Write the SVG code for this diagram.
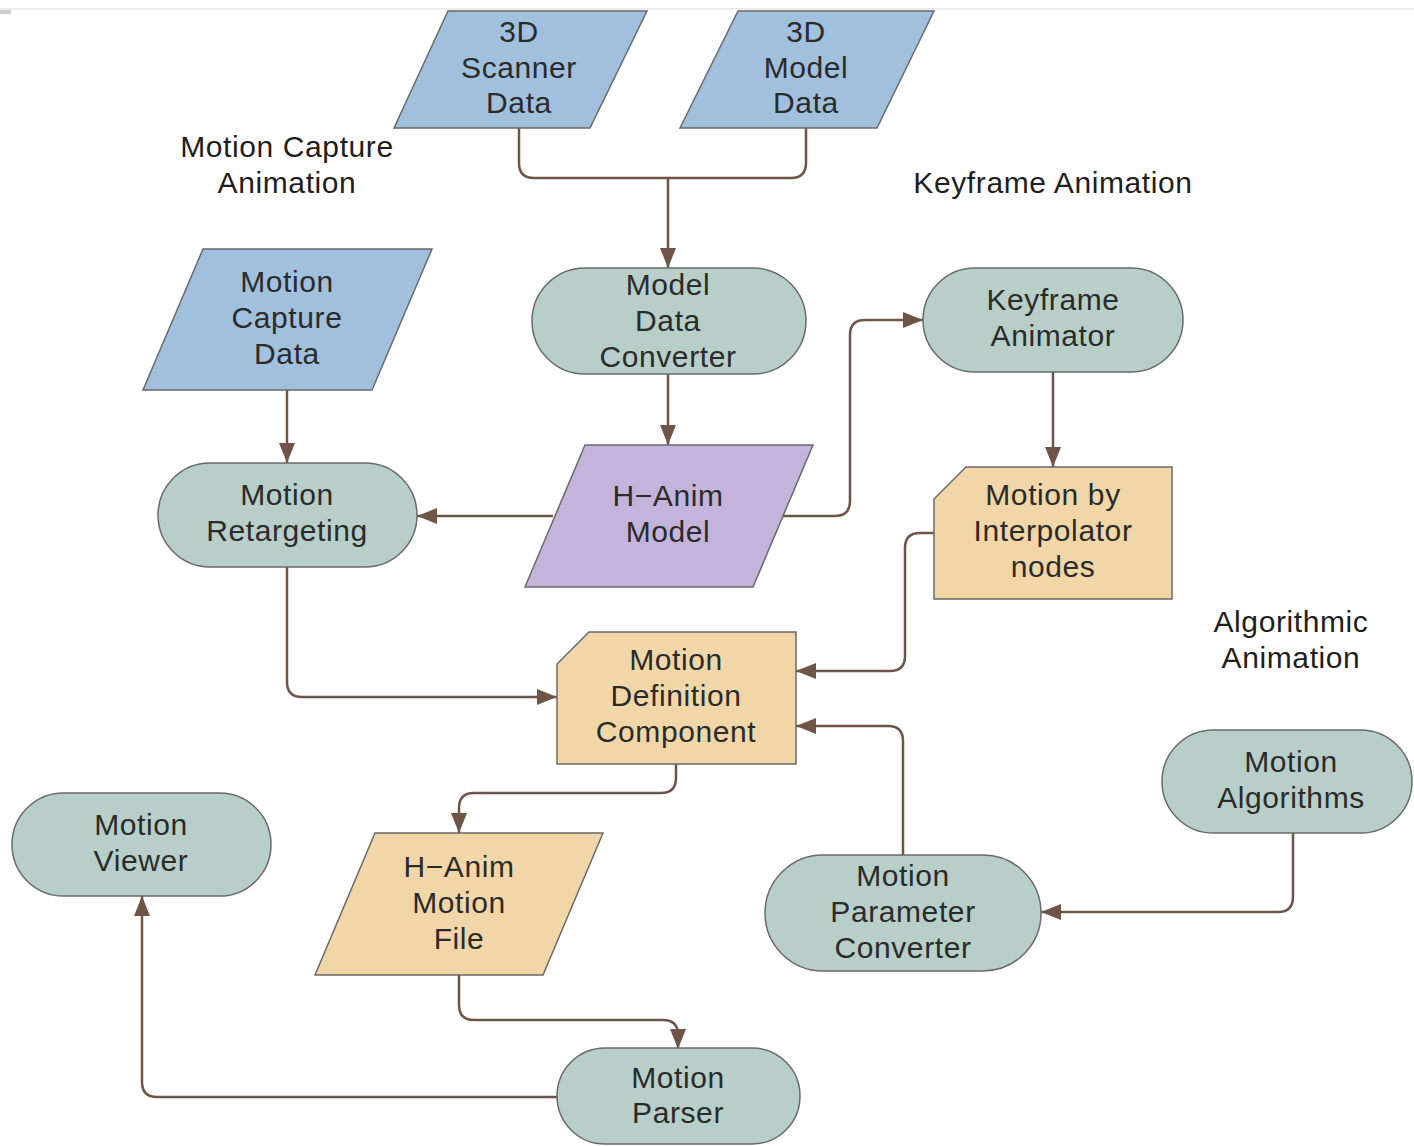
<svg xmlns="http://www.w3.org/2000/svg" width="1414" height="1146" viewBox="0 0 1414 1146">
  <defs>
    <marker id="arrow" markerUnits="userSpaceOnUse" markerWidth="22" markerHeight="16" refX="20" refY="8" orient="auto">
      <path d="M0,0 L20,8 L0,16 Z" fill="#6e5548"/>
    </marker>
  </defs>
  <style>
    .bg { fill: #ffffff; }
    .data { fill: #a1c0dd; stroke: #6a6a6a; stroke-width: 1.5; }
    .proc { fill: #b7cfc8; stroke: #6a6a6a; stroke-width: 1.5; }
    .model { fill: #c4b3da; stroke: #6a6a6a; stroke-width: 1.5; }
    .doc { fill: #f1d7a8; stroke: #6a6a6a; stroke-width: 1.5; }
    .edge { fill: none; stroke: #6e5548; stroke-width: 2.5; marker-end: url(#arrow); }
    .join { fill: none; stroke: #6e5548; stroke-width: 2.5; }
    text { font-family: "Liberation Sans", Arial, sans-serif; font-size: 30px; letter-spacing: 0.6px; text-anchor: middle; fill: #2b2b2b; }
    .lbl { fill: #1e1e1e; }
  </style>

  <rect class="bg" x="0" y="0" width="1414" height="1146"/>
  <line x1="0" y1="9" x2="1414" y2="9" stroke="#e6e6e6" stroke-width="1.5"/>
  <rect x="0" y="10" width="11" height="4" fill="#cfcfcf"/>

  <!-- section labels -->
  <g id="label-mocap">
    <text class="lbl" x="287" y="157">Motion Capture</text>
    <text class="lbl" x="287" y="193">Animation</text>
  </g>
  <g id="label-keyframe">
    <text class="lbl" x="1053" y="193">Keyframe Animation</text>
  </g>
  <g id="label-algorithmic">
    <text class="lbl" x="1291" y="632">Algorithmic</text>
    <text class="lbl" x="1291" y="668">Animation</text>
  </g>

  <!-- connectors -->
  <g id="connectors">
    <path class="edge" d="M519,128 V163 Q519,178 534,178 H668 V268"/>
    <path class="join" d="M806,128 V163 Q806,178 791,178 H668"/>
    <path class="edge" d="M668,374 V445"/>
    <path class="edge" d="M287,390 V463"/>
    <path class="edge" d="M553,516 H417"/>
    <path class="edge" d="M783,516 H835 Q850,516 850,501 V335 Q850,320 865,320 H923"/>
    <path class="edge" d="M1053,372 V467"/>
    <path class="edge" d="M287,567 V682 Q287,697 302,697 H557"/>
    <path class="edge" d="M934,533 H920 Q905,533 905,548 V656 Q905,671 890,671 H796"/>
    <path class="edge" d="M903,855 V741 Q903,726 888,726 H796"/>
    <path class="edge" d="M1293,833 V897 Q1293,912 1278,912 H1041"/>
    <path class="edge" d="M676,764 V778 Q676,793 661,793 H474 Q459,793 459,808 V833"/>
    <path class="edge" d="M459,975 V1005 Q459,1020 474,1020 H663 Q678,1020 678,1035 V1049"/>
    <path class="edge" d="M557,1097 H157 Q142,1097 142,1082 V896"/>
  </g>

  <!-- nodes -->
  <g id="scanner-data">
    <polygon class="data" points="448,11 647,11 590,128 394,128"/>
    <text x="519" y="42">3D</text>
    <text x="519" y="78">Scanner</text>
    <text x="519" y="113">Data</text>
  </g>
  <g id="model-data">
    <polygon class="data" points="738,11 934,11 877,128 680,128"/>
    <text x="806" y="42">3D</text>
    <text x="806" y="78">Model</text>
    <text x="806" y="113">Data</text>
  </g>
  <g id="motion-capture-data">
    <polygon class="data" points="203,249 432,249 372,390 143,390"/>
    <text x="287" y="292">Motion</text>
    <text x="287" y="328">Capture</text>
    <text x="287" y="364">Data</text>
  </g>
  <g id="model-data-converter">
    <rect class="proc" x="532" y="268" width="274" height="106" rx="53"/>
    <text x="668" y="295">Model</text>
    <text x="668" y="331">Data</text>
    <text x="668" y="367">Converter</text>
  </g>
  <g id="keyframe-animator">
    <rect class="proc" x="923" y="268" width="260" height="104" rx="52"/>
    <text x="1053" y="310">Keyframe</text>
    <text x="1053" y="346">Animator</text>
  </g>
  <g id="motion-retargeting">
    <rect class="proc" x="158" y="463" width="259" height="104" rx="52"/>
    <text x="287" y="505">Motion</text>
    <text x="287" y="541">Retargeting</text>
  </g>
  <g id="h-anim-model">
    <polygon class="model" points="585,445 813,445 753,587 525,587"/>
    <text x="668" y="506">H−Anim</text>
    <text x="668" y="542">Model</text>
  </g>
  <g id="motion-by-interpolator">
    <path class="doc" d="M966,467 H1172 V599 H934 V499 Z"/>
    <text x="1053" y="505">Motion by</text>
    <text x="1053" y="541">Interpolator</text>
    <text x="1053" y="577">nodes</text>
  </g>
  <g id="motion-definition-component">
    <path class="doc" d="M589,632 H796 V764 H557 V664 Z"/>
    <text x="676" y="670">Motion</text>
    <text x="676" y="706">Definition</text>
    <text x="676" y="742">Component</text>
  </g>
  <g id="motion-algorithms">
    <rect class="proc" x="1162" y="730" width="250" height="103" rx="51.5"/>
    <text x="1291" y="772">Motion</text>
    <text x="1291" y="808">Algorithms</text>
  </g>
  <g id="motion-parameter-converter">
    <rect class="proc" x="765" y="855" width="276" height="116" rx="58"/>
    <text x="903" y="886">Motion</text>
    <text x="903" y="922">Parameter</text>
    <text x="903" y="958">Converter</text>
  </g>
  <g id="motion-viewer">
    <rect class="proc" x="12" y="793" width="259" height="103" rx="51.5"/>
    <text x="141" y="835">Motion</text>
    <text x="141" y="871">Viewer</text>
  </g>
  <g id="h-anim-motion-file">
    <polygon class="doc" points="375,833 603,833 543,975 315,975"/>
    <text x="459" y="877">H−Anim</text>
    <text x="459" y="913">Motion</text>
    <text x="459" y="949">File</text>
  </g>
  <g id="motion-parser">
    <rect class="proc" x="557" y="1048" width="243" height="96" rx="48"/>
    <text x="678" y="1088">Motion</text>
    <text x="678" y="1123">Parser</text>
  </g>
</svg>
